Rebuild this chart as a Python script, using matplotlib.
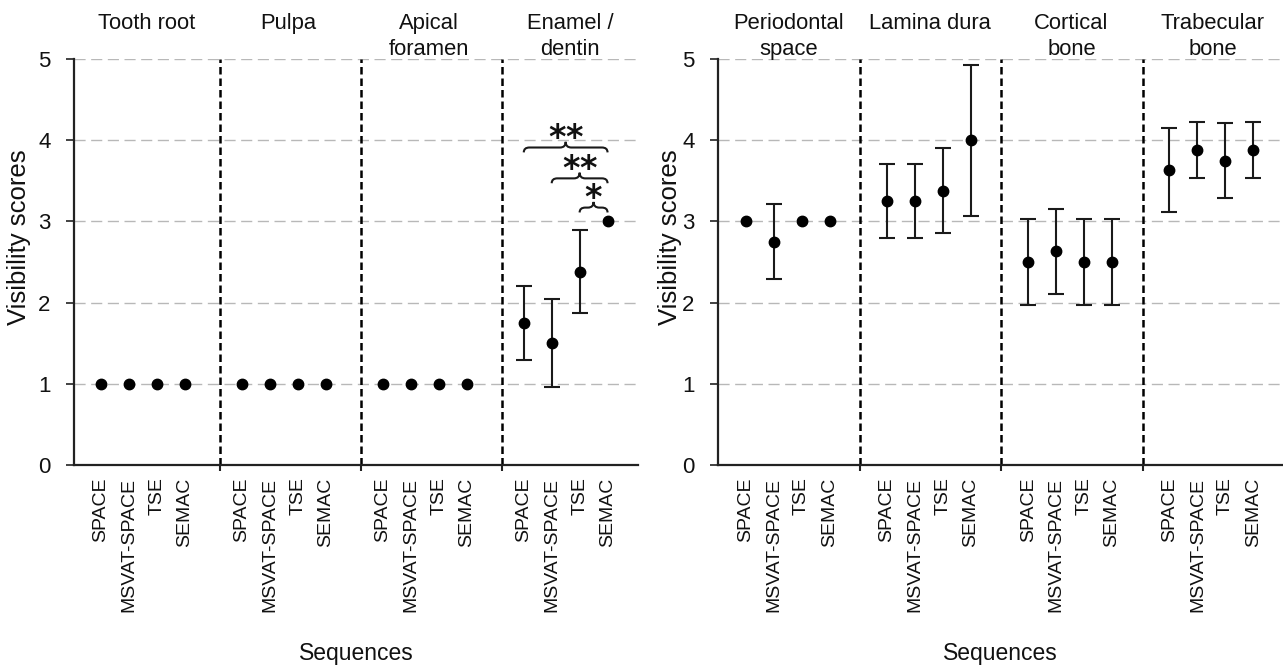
import numpy as np
import matplotlib
matplotlib.use("Agg")
import matplotlib.pyplot as plt
from matplotlib.path import Path
from matplotlib.patches import PathPatch
from matplotlib.transforms import blended_transform_factory

plt.rcParams['font.family'] = ['Liberation Sans', 'DejaVu Sans']

sequences = ["SPACE", "MSVAT-SPACE", "TSE", "SEMAC"]

left_regions = ["Tooth root", "Pulpa", "Apical\nforamen", "Enamel /\ndentin"]
left_means = [[1, 1, 1, 1],
              [1, 1, 1, 1],
              [1, 1, 1, 1],
              [1.75, 1.5, 2.38, 3.0]]
left_err = [[0, 0, 0, 0],
            [0, 0, 0, 0],
            [0, 0, 0, 0],
            [0.46, 0.54, 0.51, 0]]

right_regions = ["Periodontal\nspace", "Lamina dura", "Cortical\nbone", "Trabecular\nbone"]
right_means = [[3.0, 2.75, 3.0, 3.0],
               [3.25, 3.25, 3.38, 4.0],
               [2.5, 2.63, 2.5, 2.5],
               [3.63, 3.88, 3.75, 3.88]]
right_err = [[0, 0.46, 0, 0],
             [0.46, 0.46, 0.52, 0.93],
             [0.53, 0.52, 0.53, 0.53],
             [0.52, 0.35, 0.46, 0.35]]

# significance comparisons in "Enamel / dentin" (group index 3)
sig_from = [0, 1, 2]
sig_to = [3, 3, 3]
sig_labels = [r"$\mathbf{{*}{*}}$", r"$\mathbf{{*}{*}}$", r"$\mathbf{{*}}$"]
sig_levels = [3.91, 3.53, 3.17]

yticks = [0, 1, 2, 3, 4, 5]

W, H = 1283, 667
fig = plt.figure(figsize=(W / 100, H / 100), dpi=100)

ax_l = fig.add_axes([74 / W, 1 - 465 / H, 564 / W, 406 / H])
ax_r = fig.add_axes([718 / W, 1 - 465 / H, 565 / W, 406 / H])

TXT = '#111111'


def draw_panel(ax, regions, means, errs, sep_off, pt_off):
    ax.set_xlim(0, 20)
    ax.set_ylim(0, 5)
    for v in yticks[1:]:
        ax.axhline(v, color='#b8b8b8', lw=1.0, dashes=(8, 4), zorder=0)
    xs_all = []
    for g, (m, e) in enumerate(zip(means, errs)):
        xs = [5 * g + pt_off + i * 0.99 for i in range(len(m))]
        xs_all.extend(xs)
        m = np.array(m, dtype=float)
        e = np.array(e, dtype=float)
        has = e > 0
        if has.any():
            ax.errorbar(np.array(xs)[has], m[has], yerr=e[has], fmt='none',
                        ecolor='#1a1a1a', elinewidth=1.5, capsize=5.5,
                        capthick=1.5, zorder=3)
        ax.plot(xs, m, 'o', color='black', ms=7.5, zorder=4)
        if g > 0:
            ax.plot([5 * g + sep_off] * 2, [0, 5], color='black', lw=1.8,
                    dashes=(3, 1.6), zorder=2)
    seps = [5 * g + sep_off for g in range(1, len(means))]
    ax.set_xticks(xs_all)
    ax.set_xticklabels(sequences * len(means), rotation=90, fontsize=14,
                       color=TXT, va='top')
    ax.tick_params(axis='x', length=0, pad=9)
    ax.set_xticks(seps, minor=True)
    ax.tick_params(axis='x', which='minor', length=4, width=1.5, color='#222222')
    ax.set_yticks(yticks)
    ax.set_yticklabels([str(v) for v in yticks], fontsize=16, color=TXT)
    ax.tick_params(axis='y', length=6, width=1.2, pad=11, color='#222222')
    for s in ['top', 'right']:
        ax.spines[s].set_visible(False)
    for s in ['left', 'bottom']:
        ax.spines[s].set_linewidth(1.6)
        ax.spines[s].set_color('#222222')
    trans = blended_transform_factory(ax.transData, fig.transFigure)
    for g, name in enumerate(regions):
        ax.text(5 * g + 2.5 + sep_off / 2, 1 - 13 / H, name, transform=trans,
                ha='center', va='top', fontsize=15.8, color=TXT,
                linespacing=1.3)
    ax.set_ylabel("Visibility scores", fontsize=18.5, color=TXT, va='center')
    ax.set_xlabel("Sequences", fontsize=16.5, color=TXT, va='center')
    return xs_all


xl = draw_panel(ax_l, left_regions, left_means, left_err, 0.18, 0.95)
xr = draw_panel(ax_r, right_regions, right_means, right_err, 0.03, 0.98)

ax_l.yaxis.set_label_coords(-0.097, 0.56)
ax_r.yaxis.set_label_coords(-0.085, 0.56)
ax_l.xaxis.set_label_coords(0.5, -0.465)
ax_r.xaxis.set_label_coords(0.5, -0.465)

# significance brackets
g = 3
for a, b, lab, yh in zip(sig_from, sig_to, sig_labels, sig_levels):
    x1 = 5 * g + 0.95 + a * 0.99
    x2 = 5 * g + 0.95 + b * 0.99
    xm = (x1 + x2) / 2
    ye = yh - 0.06
    yt = yh + 0.07
    dx = 0.2
    verts = [(x1, ye), (x1, yh), (x1 + dx, yh),
             (xm - dx, yh), (xm, yh), (xm, yt),
             (xm, yh), (xm + dx, yh),
             (x2 - dx, yh), (x2, yh), (x2, ye)]
    codes = [Path.MOVETO, Path.CURVE3, Path.CURVE3,
             Path.LINETO, Path.CURVE3, Path.CURVE3,
             Path.CURVE3, Path.CURVE3,
             Path.LINETO, Path.CURVE3, Path.CURVE3]
    ax_l.add_patch(PathPatch(Path(verts, codes), fill=False, lw=1.5,
                             edgecolor='#1a1a1a', zorder=5))
    ax_l.text(xm, yh + 0.02, lab, ha='center', va='baseline', fontsize=24,
              color=TXT, zorder=5)

fig.savefig("out.png", dpi=100)
